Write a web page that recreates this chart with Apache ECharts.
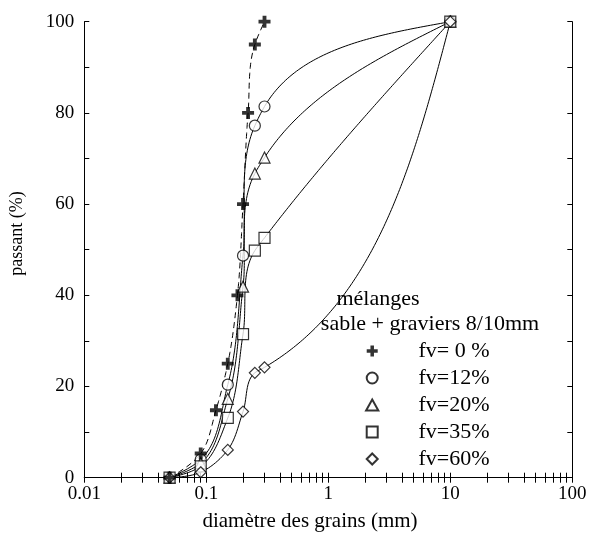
<!DOCTYPE html>
<html>
<head>
<meta charset="utf-8">
<script src="https://cdn.jsdelivr.net/npm/echarts@6/dist/echarts.min.js"></script>
<style>
html,body{margin:0;padding:0;background:#fff;}
#chart{width:595px;height:536px;}
</style>
</head>
<body>
<div id="chart"></div>
<script>
// ---- data ----
const seriesNames = ['fv= 0 %', 'fv=12%', 'fv=20%', 'fv=35%', 'fv=60%'];
const fv0X = [0.05, 0.09, 0.12, 0.15, 0.18, 0.2, 0.22, 0.25, 0.3];
const fv0Y = [0, 5.3, 14.8, 25, 40, 60, 80, 95, 100];
const mixX = [0.05, 0.09, 0.15, 0.2, 0.25, 0.3, 10];
const fv12Y = [0, 4.0, 20.4, 48.7, 77.2, 81.4, 100];
const fv20Y = [0, 3.2, 17.3, 41.9, 66.7, 70.2, 100];
const fv35Y = [0, 2.5, 13.1, 31.5, 49.8, 52.6, 100];
const fv60Y = [0, 1.2, 6.1, 14.5, 23.0, 24.2, 100];
const xTickLabels = [0.01, 0.1, 1, 10, 100];
const yTickLabels = [0, 20, 40, 60, 80, 100];
const yTickValues = [0, 10, 20, 30, 40, 50, 60, 70, 80, 90, 100];
const xTickValues = [];
for (let e = -2; e < 2; e++) {
  for (let m = 1; m < 10; m++) xTickValues.push(+(m * Math.pow(10, e)).toPrecision(3));
}
xTickValues.push(100);

const FONT = '"Liberation Serif", "Times New Roman", serif';
const plusPath = 'path://M3.4,0 H6.6 V3.4 H10 V6.6 H6.6 V10 H3.4 V6.6 H0 V3.4 H3.4 Z';
const triPath = 'path://M5,0 L10,9 L0,9 Z';
const rectPath = 'path://M0,0 H10 V10 H0 Z';
const diaPath = 'path://M5,0 L10,5 L5,10 L0,5 Z';

function pairs(xs, ys) { return xs.map((x, i) => [x, ys[i]]); }

// smooth chord-length spline through the pixel positions of the data points
function splinePoints(p) {
  const n = p.length;
  if (n < 3) return p.slice();
  const d = [];
  for (let i = 0; i < n - 1; i++) d.push(Math.max(1e-6, Math.hypot(p[i + 1][0] - p[i][0], p[i + 1][1] - p[i][1])));
  const T = new Array(n);
  for (let i = 1; i < n - 1; i++) {
    const a = d[i - 1], b = d[i];
    T[i] = [0, 1].map(k => (p[i][k] - p[i - 1][k]) / a - (p[i + 1][k] - p[i - 1][k]) / (a + b) + (p[i + 1][k] - p[i][k]) / b);
  }
  T[0] = [0, 1].map(k => ((3 * (p[1][k] - p[0][k]) - T[1][k] * d[0]) / 2) / d[0]);
  T[n - 1] = [0, 1].map(k => ((3 * (p[n - 1][k] - p[n - 2][k]) - T[n - 2][k] * d[n - 2]) / 2) / d[n - 2]);
  const out = [p[0]];
  for (let i = 0; i < n - 1; i++) {
    const P0 = p[i], P3 = p[i + 1];
    const P1 = [P0[0] + T[i][0] * d[i] / 3, P0[1] + T[i][1] * d[i] / 3];
    const P2 = [P3[0] - T[i + 1][0] * d[i] / 3, P3[1] - T[i + 1][1] * d[i] / 3];
    const steps = Math.max(8, Math.ceil(d[i] / 3));
    for (let s = 1; s <= steps; s++) {
      const t = s / steps, u = 1 - t;
      out.push([0, 1].map(k => u * u * u * P0[k] + 3 * u * u * t * P1[k] + 3 * u * t * t * P2[k] + t * t * t * P3[k]));
    }
  }
  return out;
}

function curveSeries(name, xs, ys, dashed) {
  return {
    name: name, type: 'custom', coordinateSystem: 'cartesian2d', z: 2, silent: true,
    data: pairs(xs, ys),
    renderItem: function (params, api) {
      if (params.dataIndex !== 0) return null;
      const pts = xs.map((x, i) => api.coord([x, ys[i]]));
      return {
        type: 'polyline',
        shape: {points: splinePoints(pts)},
        style: {stroke: '#000', fill: null, lineWidth: 1, lineDash: dashed ? [6, 4] : null}
      };
    }
  };
}

const hollow = {color: '#fff', borderColor: '#000', borderWidth: 1.2};

const chart = echarts.init(document.getElementById('chart'), null, {renderer: 'canvas'});

const axisLineStyle = {show: true, lineStyle: {color: '#000', width: 1}};

chart.setOption({
  animation: false,
  backgroundColor: '#fff',
  grid: {left: 84.3, right: 22.7, top: 21.7, bottom: 58.3, containLabel: false},
  xAxis: [{
    type: 'log', logBase: 10, min: 0.01, max: 100, position: 'bottom',
    axisLine: axisLineStyle,
    axisTick: {show: true, inside: true, length: 5, customValues: xTickValues, lineStyle: {color: '#000'}},
    axisLabel: {show: true, customValues: xTickLabels, margin: 7, color: '#000', fontFamily: FONT, fontSize: 19,
      formatter: v => String(+(+v).toPrecision(3))},
    splitLine: {show: false}
  }, {
    type: 'log', logBase: 10, min: 0.01, max: 100, position: 'top',
    axisLine: axisLineStyle,
    axisTick: {show: true, inside: true, length: 5, customValues: xTickValues, lineStyle: {color: '#000'}},
    axisLabel: {show: false},
    splitLine: {show: false}
  }],
  yAxis: [{
    type: 'value', min: 0, max: 100, interval: 10, position: 'left',
    axisLine: axisLineStyle,
    axisTick: {show: true, inside: true, length: 5, customValues: yTickValues, lineStyle: {color: '#000'}},
    axisLabel: {show: true, customValues: yTickLabels, margin: 10, color: '#000', fontFamily: FONT, fontSize: 19},
    splitLine: {show: false}
  }, {
    type: 'value', min: 0, max: 100, interval: 10, position: 'right',
    axisLine: axisLineStyle,
    axisTick: {show: true, inside: true, length: 5, customValues: yTickValues, lineStyle: {color: '#000'}},
    axisLabel: {show: false},
    splitLine: {show: false}
  }],
  legend: {
    orient: 'vertical', left: 365.1, top: 340, padding: 0,
    itemWidth: 82.6, itemHeight: 11, itemGap: 5, symbolKeepAspect: true,
    textStyle: {fontFamily: FONT, fontSize: 22, lineHeight: 20, color: '#000'},
    data: [
      {name: seriesNames[0], icon: plusPath},
      {name: seriesNames[1], icon: 'circle'},
      {name: seriesNames[2], icon: triPath},
      {name: seriesNames[3], icon: rectPath},
      {name: seriesNames[4], icon: diaPath}
    ]
  },
  series: [
    {name: seriesNames[0], type: 'scatter', data: pairs(fv0X, fv0Y), symbol: plusPath, symbolSize: 12,
      itemStyle: {color: '#000'}, z: 4},
    {name: seriesNames[1], type: 'scatter', data: pairs(mixX, fv12Y), symbol: 'circle', symbolSize: 11, itemStyle: hollow, z: 3},
    {name: seriesNames[2], type: 'scatter', data: pairs(mixX, fv20Y), symbol: 'triangle', symbolSize: 11, itemStyle: hollow, z: 3},
    {name: seriesNames[3], type: 'scatter', data: pairs(mixX, fv35Y), symbol: 'rect', symbolSize: 11, itemStyle: hollow, z: 3},
    {name: seriesNames[4], type: 'scatter', data: pairs(mixX, fv60Y), symbol: 'diamond', symbolSize: 11, itemStyle: hollow, z: 3},
    curveSeries(seriesNames[0], fv0X, fv0Y, true),
    curveSeries(seriesNames[1], mixX, fv12Y, false),
    curveSeries(seriesNames[2], mixX, fv20Y, false),
    curveSeries(seriesNames[3], mixX, fv35Y, false),
    curveSeries(seriesNames[4], mixX, fv60Y, false)
  ],
  graphic: [
    {type: 'text', style: {text: 'mélanges', x: 378, y: 299, fill: '#000', font: '22px ' + FONT, textAlign: 'center', textVerticalAlign: 'middle'}},
    {type: 'text', style: {text: 'sable + graviers 8/10mm', x: 430, y: 324, fill: '#000', font: '22px ' + FONT, textAlign: 'center', textVerticalAlign: 'middle'}},
    {type: 'text', style: {text: 'diamètre des grains (mm)', x: 310, y: 521, fill: '#000', font: '21px ' + FONT, textAlign: 'center', textVerticalAlign: 'middle'}},
    {type: 'text', x: 17.5, y: 233.5, rotation: Math.PI / 2, style: {text: 'passant (%)', x: 0, y: 0, fill: '#000', font: '18px ' + FONT, textAlign: 'center', textVerticalAlign: 'middle'}}
  ]
});
</script>
</body>
</html>
